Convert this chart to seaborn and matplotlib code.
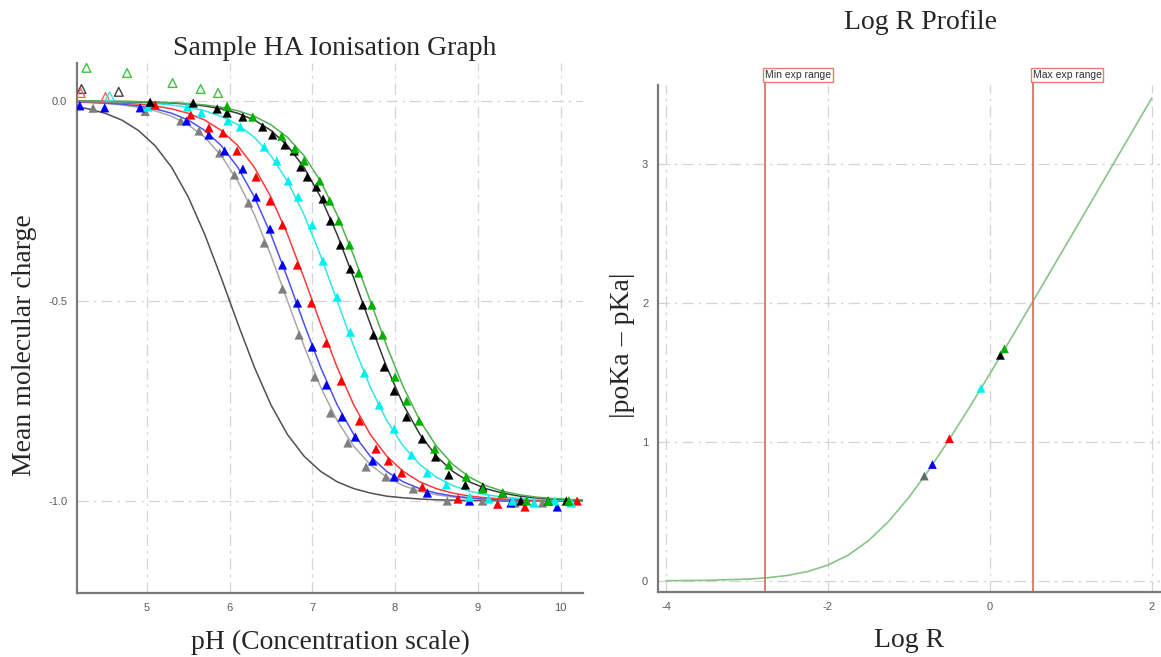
import matplotlib
matplotlib.use('Agg')
import matplotlib.pyplot as plt
import matplotlib.transforms as mtransforms
import seaborn as sns
import pandas as pd

# pH grid used for the fitted curves
ph_grid = [4.1, 4.3, 4.5, 4.7, 4.9, 5.1, 5.3, 5.5, 5.7, 5.9, 6.1, 6.3, 6.5, 6.7, 6.9, 7.1,
           7.3, 7.5, 7.7, 7.9, 8.1, 8.3, 8.5, 8.7, 8.9, 9.1, 9.3, 9.5, 9.7, 9.9, 10.1, 10.3]

# fitted curves (mean molecular charge)
fit_aqueous = [-0.012, -0.020, -0.031, -0.048, -0.074, -0.112, -0.166, -0.240, -0.334, -0.443,
               -0.557, -0.666, -0.760, -0.834, -0.888, -0.926, -0.952, -0.969, -0.980, -0.988,
               -0.992, -0.995, -0.997, -0.998, -0.999, -0.999, -1.0, -1.0, -1.0, -1.0, -1.0, -1.0]
fit_gray = [-0.0025, -0.004, -0.0063, -0.0099, -0.0156, -0.0245, -0.0383, -0.0594, -0.0909,
            -0.1368, -0.2008, -0.2847, -0.3869, -0.5, -0.6131, -0.7153, -0.7992, -0.8632,
            -0.9091, -0.9406, -0.9617, -0.9755, -0.9844, -0.9901, -0.9937, -0.996, -0.9975,
            -0.9984, -0.999, -0.9994, -0.9996, -0.9997]
fit_blue = [-0.002, -0.0032, -0.005, -0.0079, -0.0124, -0.0196, -0.0307, -0.0477, -0.0736,
            -0.1118, -0.1663, -0.2403, -0.3339, -0.4427, -0.5573, -0.6661, -0.7597, -0.8337,
            -0.8882, -0.9264, -0.9523, -0.9693, -0.9804, -0.9876, -0.9921, -0.995, -0.9968,
            -0.998, -0.9987, -0.9992, -0.9995, -0.9997]
fit_red = [-0.0013, -0.002, -0.0032, -0.005, -0.0079, -0.0124, -0.0196, -0.0307, -0.0477,
           -0.0736, -0.1118, -0.1663, -0.2403, -0.3339, -0.4427, -0.5573, -0.6661, -0.7597,
           -0.8337, -0.8882, -0.9264, -0.9523, -0.9693, -0.9804, -0.9876, -0.9921, -0.995,
           -0.9968, -0.998, -0.9987, -0.9992, -0.9995]
fit_cyan = [-0.0006, -0.001, -0.0016, -0.0025, -0.004, -0.0063, -0.0099, -0.0156, -0.0245,
            -0.0383, -0.0594, -0.0909, -0.1368, -0.2008, -0.2847, -0.3869, -0.5, -0.6131,
            -0.7153, -0.7992, -0.8632, -0.9091, -0.9406, -0.9617, -0.9755, -0.9844, -0.9901,
            -0.9937, -0.996, -0.9975, -0.9984, -0.999]
fit_black = [-0.0003, -0.0005, -0.0008, -0.0013, -0.002, -0.0032, -0.005, -0.0079, -0.0124,
             -0.0196, -0.0307, -0.0477, -0.0736, -0.1118, -0.1663, -0.2403, -0.3339, -0.4427,
             -0.5573, -0.6661, -0.7597, -0.8337, -0.8882, -0.9264, -0.9523, -0.9693, -0.9804,
             -0.9876, -0.9921, -0.995, -0.9968, -0.998]
fit_green = [-0.0003, -0.0004, -0.0006, -0.001, -0.0016, -0.0025, -0.004, -0.0063, -0.0099,
             -0.0156, -0.0245, -0.0383, -0.0594, -0.0909, -0.1368, -0.2008, -0.2847, -0.3869,
             -0.5, -0.6131, -0.7153, -0.7992, -0.8632, -0.9091, -0.9406, -0.9617, -0.9755,
             -0.9844, -0.9901, -0.9937, -0.996, -0.9975]

# measured points (filled triangles)
gray_ph = [4.35, 4.98, 5.41, 5.63, 5.88, 6.06, 6.23, 6.42, 6.64, 6.84, 7.03, 7.22, 7.43, 7.65,
           7.89, 8.22, 8.63, 9.06, 9.45, 9.78, 10.1]
gray_q = [-0.018, -0.026, -0.05, -0.075, -0.13, -0.185, -0.255, -0.355, -0.47, -0.585, -0.69,
          -0.78, -0.855, -0.915, -0.94, -0.97, -1.0, -1.0, -1.005, -1.005, -1.0]
blue_ph = [4.19, 4.49, 4.92, 5.48, 5.75, 5.94, 6.16, 6.32, 6.49, 6.64, 6.82, 7.0, 7.17, 7.36,
           7.52, 7.73, 7.99, 8.39, 8.9, 9.4, 9.96]
blue_q = [-0.012, -0.017, -0.017, -0.05, -0.085, -0.125, -0.17, -0.24, -0.32, -0.41, -0.505,
          -0.615, -0.71, -0.79, -0.84, -0.9, -0.94, -0.98, -1.0, -1.005, -1.015]
red_ph = [5.1, 5.53, 5.75, 5.92, 6.09, 6.32, 6.49, 6.64, 6.82, 6.99, 7.17, 7.35, 7.57, 7.77,
          7.92, 8.08, 8.33, 8.76, 9.24, 9.57, 10.2]
red_q = [-0.01, -0.035, -0.067, -0.08, -0.125, -0.19, -0.25, -0.31, -0.41, -0.505, -0.605,
         -0.7, -0.8, -0.87, -0.9, -0.93, -0.965, -0.995, -1.008, -1.015, -1.0]
cyan_ph = [5.01, 5.49, 5.66, 5.98, 6.13, 6.42, 6.57, 6.71, 6.83, 7.0, 7.13, 7.3, 7.46, 7.63,
           7.81, 7.99, 8.2, 8.39, 8.62, 8.9, 9.13, 9.42, 9.68, 9.93, 10.13]
cyan_q = [-0.015, -0.015, -0.03, -0.05, -0.065, -0.115, -0.15, -0.2, -0.24, -0.31, -0.4, -0.49,
          -0.578, -0.68, -0.76, -0.82, -0.885, -0.93, -0.96, -0.99, -0.995, -1.0, -1.005, -1.0,
          -1.005]
black_ph = [5.04, 5.56, 5.85, 5.97, 6.16, 6.4, 6.52, 6.67, 6.78, 6.86, 6.94, 7.05, 7.13, 7.22,
            7.34, 7.46, 7.61, 7.74, 7.87, 7.99, 8.14, 8.33, 8.49, 8.65, 8.85, 9.06, 9.3, 9.52,
            9.85, 10.07]
black_q = [-0.003, -0.005, -0.02, -0.03, -0.04, -0.065, -0.085, -0.11, -0.125, -0.165, -0.19,
           -0.215, -0.245, -0.3, -0.36, -0.42, -0.51, -0.585, -0.665, -0.725, -0.79, -0.845,
           -0.89, -0.935, -0.96, -0.965, -0.98, -1.0, -1.0, -1.0]
green_ph = [5.97, 6.28, 6.63, 6.79, 6.9, 7.09, 7.21, 7.32, 7.45, 7.56, 7.72, 7.85, 8.0, 8.14,
            8.29, 8.48, 8.65, 8.86, 9.06, 9.3, 9.59, 9.85, 10.1]
green_q = [-0.013, -0.04, -0.088, -0.12, -0.15, -0.2, -0.25, -0.3, -0.36, -0.43, -0.51, -0.585,
           -0.69, -0.75, -0.8, -0.87, -0.91, -0.94, -0.97, -0.98, -1.0, -1.0, -1.0]

# excluded points (open triangles)
open_green_ph = [4.27, 4.76, 5.31, 5.65, 5.86]
open_green_q = [0.083, 0.07, 0.045, 0.03, 0.02]
open_black_ph = [4.21, 4.66]
open_black_q = [0.03, 0.023]
open_red_ph = [4.2, 4.5]
open_red_q = [0.02, 0.01]
open_cyan_ph = [4.55]
open_cyan_q = [0.012]

# Log R profile
logr = [-4, -3.5, -3, -2.75, -2.5, -2.25, -2, -1.75, -1.5, -1.25, -1, -0.75, -0.5, -0.25,
        0, 0.25, 0.5, 0.75, 1, 1.25, 1.5, 1.75, 2]
dpka = [0.0013, 0.0041, 0.0128, 0.0226, 0.0394, 0.0677, 0.1139, 0.1857, 0.2897, 0.4293,
        0.6021, 0.8017, 1.0207, 1.2521, 1.4914, 1.7352, 1.9817, 2.2297, 2.4786, 2.728,
        2.9776, 3.2274, 3.4773]
profile_logr = [-0.81, -0.71, -0.50, -0.11, 0.13, 0.18]
profile_dpka = [0.755, 0.838, 1.024, 1.386, 1.624, 1.671]
profile_colors = ['#5f6f6f', '#0000ff', '#ff0000', '#00f0f0', '#000000', '#00b000']
min_exp = -2.78
max_exp = 0.53

sns.set_style('white')
plt.rcParams['axes.unicode_minus'] = False

fig = plt.figure(figsize=(11.61, 6.57), dpi=100)
ax1 = fig.add_axes([0.0663, 0.0974, 0.4358, 0.8067])
ax2 = fig.add_axes([0.5667, 0.0989, 0.4324, 0.7717])

serif = ['Liberation Serif', 'DejaVu Serif']
grid_kw = dict(color='#d4d4d4', linestyle=(0, (9, 4, 2, 4)), linewidth=0.9)

# ---- left panel ----
df_fit = pd.DataFrame({'pH': ph_grid * 7,
                       'q': fit_aqueous + fit_gray + fit_blue + fit_red + fit_cyan + fit_black + fit_green,
                       'curve': sum([[c] * len(ph_grid) for c in
                                     ['aq', 'gray', 'blue', 'red', 'cyan', 'black', 'green']], [])})
line_pal = {'aq': '#505050', 'gray': '#a8a8a8', 'blue': '#5050f0', 'red': '#ff3a3a',
            'cyan': '#30e6e6', 'black': '#383838', 'green': '#50b050'}
sns.lineplot(data=df_fit, x='pH', y='q', hue='curve', palette=line_pal, estimator=None,
             linewidth=1.1, legend=False, ax=ax1)

marker_sets = [(gray_ph, gray_q, '#7f7f7f'), (blue_ph, blue_q, '#0000f0'),
               (red_ph, red_q, '#ff0000'), (cyan_ph, cyan_q, '#00f0f0'),
               (black_ph, black_q, '#000000'), (green_ph, green_q, '#00b000')]
for xs, ys, col in marker_sets:
    sns.scatterplot(x=xs, y=ys, marker='^', s=44, color=col, edgecolor='none', ax=ax1, zorder=3)

open_sets = [(open_green_ph, open_green_q, '#40c040'), (open_black_ph, open_black_q, '#404040'),
             (open_red_ph, open_red_q, '#ff6060'), (open_cyan_ph, open_cyan_q, '#40e0e0')]
for xs, ys, col in open_sets:
    sns.scatterplot(x=xs, y=ys, marker='^', s=40, facecolor='none', edgecolor=col,
                    linewidth=1.0, ax=ax1, zorder=3)

ax1.set_xlim(4.155, 10.27)
ax1.set_ylim(-1.23, 0.095)
ax1.set_xticks([5, 6, 7, 8, 9, 10])
ax1.set_yticks([0.0, -0.5, -1.0])
ax1.set_yticklabels(['0.0', '-0.5', '-1.0'])
ax1.grid(True, **grid_kw)
ax1.set_title('Sample HA Ionisation Graph', family=serif, fontsize=20, pad=6, x=0.51)
ax1.set_xlabel('pH (Concentration scale)', family=serif, fontsize=20, labelpad=12)
ax1.set_ylabel('Mean molecular charge', family=serif, fontsize=20)
ax1.yaxis.set_label_coords(-0.079, 0.468)

# ---- right panel ----
sns.lineplot(x=logr, y=dpka, color='#88c488', linewidth=1.2, ax=ax2)
for xv, yv, col in zip(profile_logr, profile_dpka, profile_colors):
    sns.scatterplot(x=[xv], y=[yv], marker='^', s=40, color=col, edgecolor='none', ax=ax2, zorder=3)

trans = mtransforms.blended_transform_factory(ax2.transData, ax2.transAxes)
for xv, label in [(min_exp, 'Min exp range'), (max_exp, 'Max exp range')]:
    ax2.axvline(xv, color='#d86a58', linewidth=1.2, ymax=1.0)
    ax2.plot([xv, xv], [1.0, 1.01], color='#d86a58', linewidth=1.2, transform=trans, clip_on=False)
    ax2.text(xv, 1.01, label, transform=trans, fontsize=7.5, family='Liberation Sans',
             color='#303030', ha='left', va='bottom',
             bbox=dict(boxstyle='square,pad=0.15', facecolor='white', edgecolor='#e08070', linewidth=1))

ax2.set_xlim(-4.1, 2.1)
ax2.set_ylim(-0.08, 3.57)
ax2.set_xticks([-4, -2, 0, 2])
ax2.set_yticks([0, 1, 2, 3])
ax2.grid(True, **grid_kw)
ax2.set_title('Log R Profile', family=serif, fontsize=20, pad=40, x=0.524)
ax2.set_xlabel('Log R', family=serif, fontsize=20, labelpad=12)
ax2.set_ylabel('|poKa – pKa|', family=serif, fontsize=20)
ax2.yaxis.set_label_coords(-0.046, 0.487)

for ax in (ax1, ax2):
    for side in ('top', 'right'):
        ax.spines[side].set_visible(False)
    for side in ('left', 'bottom'):
        ax.spines[side].set_color('#7a7a7a')
        ax.spines[side].set_linewidth(1.6)
    ax.tick_params(axis='both', length=3, color='#9a9a9a', labelsize=8, labelcolor='#5a5a5a', pad=4)
    for lab in ax.get_xticklabels() + ax.get_yticklabels():
        lab.set_family('Liberation Sans')

fig.savefig('out.png', dpi=100)
